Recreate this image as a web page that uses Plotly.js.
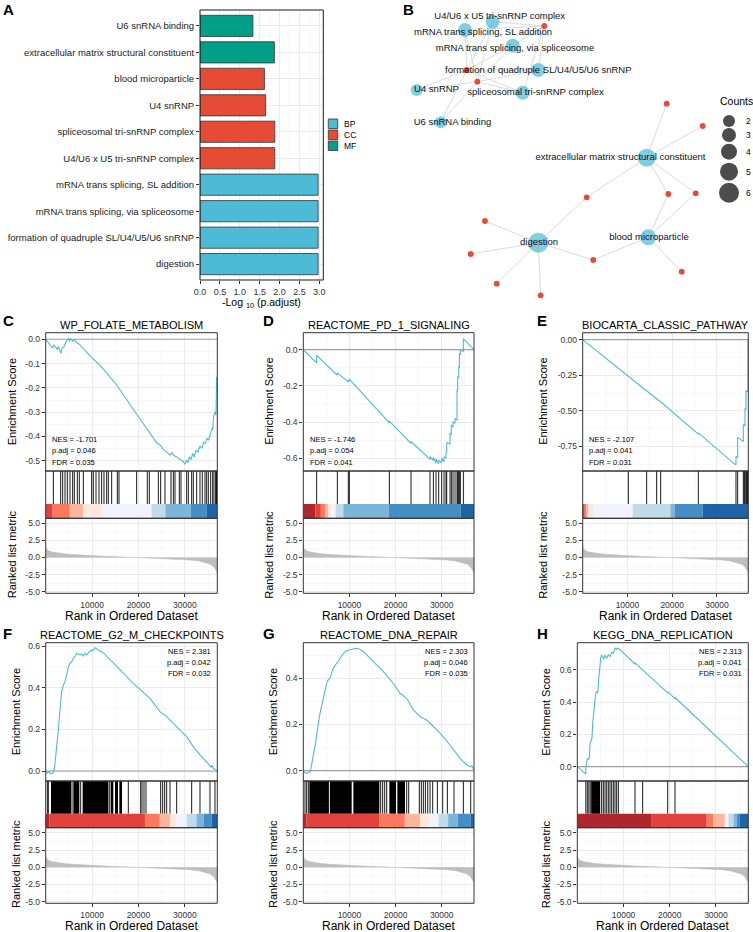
<!DOCTYPE html>
<html>
<head>
<meta charset="utf-8">
<script src="https://cdn.plot.ly/plotly-3.0.1.min.js"></script>
<style>html,body{margin:0;padding:0;background:#fff}#chart{width:753px;height:932px}</style>
</head>
<body>
<div id="chart"></div>
<script>
// ================= DATA =================
// Panel A: GO enrichment (top to bottom)
const goTerms = ['U6 snRNA binding','extracellular matrix structural constituent','blood microparticle','U4 snRNP','spliceosomal tri-snRNP complex','U4/U6 x U5 tri-snRNP complex','mRNA trans splicing, SL addition','mRNA trans splicing, via spliceosome','formation of quadruple SL/U4/U5/U6 snRNP','digestion'];
const goOntology = ['MF','MF','CC','CC','CC','CC','BP','BP','BP','BP'];
const goLogP = [1.33,1.87,1.62,1.65,1.88,1.88,2.97,2.97,2.97,2.97];
const ontologies = ['BP','CC','MF'];
const pAdjTicks = [0,0.5,1,1.5,2,2.5,3];

// Panel B: gene-concept network (layout coordinates as drawn)
const netTerms = ['U4/U6 x U5 tri-snRNP complex','mRNA trans splicing, SL addition','mRNA trans splicing, via spliceosome','formation of quadruple SL/U4/U5/U6 snRNP','spliceosomal tri-snRNP complex','U4 snRNP','U6 snRNA binding','extracellular matrix structural constituent','digestion','blood microparticle'];
const netTermX = [492.7,465,512.7,538.3,522.7,416.7,440.7,646.7,538.3,648.3];
const netTermY = [21.7,30,45.7,70,92.7,90,122.3,157.7,242.7,237.3];
const netTermCount = [3,3,3,3,3,2,2,5,6,4];
const netLabelX = [499.7,483,515,538.3,535.5,436.5,452.5,620.5,539,649];
const netLabelY = [17,33,49,70.3,93,90,122.3,158,243,237.7];
const netGeneX = [544.3,466.7,477.3,666.7,702.7,668.3,695.7,586.7,485,470.7,496.7,540.7,593.3,681.7];
const netGeneY = [26,70,81.7,103.7,126,194,193.3,197.3,221,254,283.7,295.3,260,271.7];
const netEdges = [[0,0],[0,1],[0,2],[1,0],[1,1],[1,2],[2,0],[2,1],[2,2],[3,0],[3,1],[3,2],[4,0],[4,1],[4,2],[5,1],[5,2],[6,1],[6,2],
  [7,3],[7,4],[7,5],[7,6],[7,7],[8,7],[8,8],[8,9],[8,10],[8,11],[8,12],[9,5],[9,6],[9,12],[9,13]];
const countLegend = [2,3,4,5,6];

// GSEA panels
const gseaNames = ['WP_FOLATE_METABOLISM','REACTOME_PD_1_SIGNALING','BIOCARTA_CLASSIC_PATHWAY','REACTOME_G2_M_CHECKPOINTS','REACTOME_DNA_REPAIR','KEGG_DNA_REPLICATION'];
const gseaNES = [-1.701,-1.746,-2.107,2.381,2.303,2.313];
const gseaPadj = [0.046,0.054,0.041,0.042,0.046,0.041];
const gseaFDR = [0.035,0.041,0.031,0.032,0.035,0.031];
const rankedListLength = 37000;
const rankTicks = [10000,20000,30000];

const esRankC = [0,568,1071,1502,1646,2077,2508,2724,3083,3299,3514,3946,4377,4664,4880,5168,5383,5814,6101,7395,8832,9911,11707,15301,18893,22487,23925,24643,25361,26081,26799,27159,27661,28237,28955,29673,30033,30320,30680,30967,31327,31687,32045,32405,32836,33267,33698,34058,34416,34776,35136,35494,35854,35999,36214,36501,36717,36861];
const esScoreC = [0,-0.016,-0.027,-0.037,-0.023,-0.033,-0.041,-0.030,-0.049,-0.058,-0.037,-0.030,-0.011,-0.003,0.003,-0.008,0.003,-0.008,-0.003,-0.023,-0.051,-0.076,-0.106,-0.188,-0.288,-0.387,-0.426,-0.435,-0.453,-0.463,-0.477,-0.467,-0.478,-0.484,-0.495,-0.504,-0.514,-0.497,-0.508,-0.484,-0.495,-0.470,-0.484,-0.456,-0.464,-0.440,-0.449,-0.422,-0.429,-0.407,-0.415,-0.385,-0.367,-0.374,-0.316,-0.298,-0.312,-0.154];
const hitsC = [1650,3227,3658,4161,4664,5239,5814,6173,6820,7251,8114,9911,10270,10845,11491,12067,12569,13145,13503,14223,15444,15803,19612,21912,22343,24283,24787,25721,27015,27517,27877,28811,29171,30393,30751,31471,31829,32549,33267,33770,34345,34705,35063,35567,35998,36285,36645,36800,36900];
const blocksC = [];
const bandEdgesC = [0,1500,5200,8100,12200,22800,25800,31300,34700,37000];
const bandColorC = [9,8,7,6,5,4,3,2,1];
const esTicksC = [0,-0.1,-0.2,-0.3,-0.4,-0.5];
const esTickTextC = ['0.0','-0.1','-0.2','-0.3','-0.4','-0.5'];

const esRankD = [0,2898,2898,7380,7380,9763,9763,9980,9980,18652,18652,23349,23349,27469,27469,28191,28191,28769,28769,29348,29348,29999,29999,30504,30504,30937,30937,31083,31083,31805,31805,32093,32093,32455,32455,32889,32889,33322,33322,33467,33467,33684,33684,33827,33827,34044,34044,34478,34695,34695,37000];
const esScoreD = [0,-0.073,-0.031,-0.141,-0.128,-0.178,-0.168,-0.172,-0.163,-0.404,-0.395,-0.517,-0.507,-0.606,-0.591,-0.613,-0.594,-0.628,-0.604,-0.631,-0.609,-0.624,-0.6,-0.618,-0.591,-0.6,-0.563,-0.567,-0.514,-0.52,-0.462,-0.466,-0.417,-0.426,-0.398,-0.407,-0.38,-0.389,-0.224,-0.226,-0.15,-0.152,-0.095,-0.097,-0.022,-0.024,0.002,-0.007,-0.01,0.061,0];
const hitsD = [2898,7380,9763,9980,18652,23349,27469,28191,28769,29348,29999,30504,30937,31083,31805,32093,32455,32889,33322,33467,33684,33827,34044,34695];
const blocksD = [];
const bandEdgesD = [0,2600,3800,4700,5400,6150,7000,8680,18500,34100,37000];
const bandColorD = [10,9,8,7,6,5,4,3,2,1];
const esTicksD = [0,-0.2,-0.4,-0.6];
const esTickTextD = ['0.0','-0.2','-0.4','-0.6'];

const esRankE = [0,10195,10195,14290,14290,16525,16525,17418,17418,25832,25832,34024,34247,34247,34620,34620,35885,35885,36257,36257,36480,36480,36930,36930];
const esScoreE = [0,-0.262,-0.256,-0.361,-0.359,-0.417,-0.415,-0.438,-0.436,-0.664,-0.655,-0.876,-0.878,-0.822,-0.826,-0.685,-0.717,-0.600,-0.604,-0.484,-0.49,-0.36,-0.365,0];
const hitsE = [10195,14290,16525,17418,25832,34247,34620,35885,36100,36257,36480,36650,36800,36930];
const blocksE = [];
const bandEdgesE = [0,450,750,1270,2550,11170,19600,20550,26800,37000];
const bandColorE = [9,8,7,6,5,4,3,2,1];
const esTicksE = [0,-0.25,-0.5,-0.75];
const esTickTextE = ['0.00','-0.25','-0.50','-0.75'];

const esRankF = [0,352,783,1071,1502,1790,2005,2221,2508,2724,3083,3443,3802,4161,4521,4880,5239,5599,5958,6317,6677,7035,7395,7754,8114,8473,8832,9192,9551,9911,10270,10630,10989,11348,11707,12425,13145,13863,15301,18893,22487,24643,26081,28237,30393,31829,33267,35063,35639,35855,36141,36501,37000];
const esScoreF = [0,-0.011,-0.003,-0.014,-0.011,0,0.037,0.077,0.149,0.197,0.293,0.381,0.413,0.429,0.461,0.501,0.517,0.525,0.541,0.549,0.565,0.562,0.557,0.562,0.552,0.565,0.557,0.568,0.573,0.581,0.578,0.592,0.587,0.581,0.576,0.568,0.552,0.533,0.501,0.421,0.349,0.285,0.261,0.213,0.165,0.117,0.077,0.034,0.018,0.029,0.013,0.008,0];
const hitsF = [352,568,5670,7539,13719,17815,20475,20762,21193,21625,24787,25219,25650,26081,26799,28237,31471,33267,35423,36501];
const blocksF = [[1143,5455],[5958,7251],[7971,13503],[14007,14581],[14941,15588],[15875,16450]];
const bandEdgesF = [0,800,21400,24600,26800,28200,30400,32500,34100,35800,37000];
const bandColorF = [10,9,8,7,6,5,4,3,2,1];
const esTicksF = [0,0.2,0.4,0.6];
const esTickTextF = ['0.0','0.2','0.4','0.6'];

const esRankG = [0,369,730,1091,1453,1669,1814,2175,2537,2898,3259,3621,3982,4343,4705,5066,5427,5789,6150,6511,7234,7957,8679,9402,10125,10847,11570,12293,13015,13738,15183,17351,19519,20965,22410,23855,25301,26746,28191,29637,31805,33973,35419,36141,36503,37000];
const esScoreG = [0,-0.009,-0.012,-0.009,-0.004,0.01,0.032,0.068,0.104,0.162,0.205,0.248,0.284,0.321,0.357,0.378,0.393,0.4,0.422,0.443,0.465,0.487,0.508,0.52,0.523,0.526,0.53,0.526,0.516,0.501,0.472,0.429,0.378,0.335,0.313,0.263,0.234,0.219,0.191,0.162,0.111,0.053,0.025,0.017,0.022,0.003];
const hitsG = [369,730,1091,16773,17207,17641,18074,22410,22844,25155,25589,26022,26456,26963,27469,28047,29058,30215,31226,32672,34695,36286];
const blocksG = [[1308,5550],[5750,10486],[10847,16484],[18652,20097],[20386,22049]];
const bandEdgesG = [0,700,16500,22000,25300,27300,29300,31400,33500,36300,37000];
const bandColorG = [10,9,8,7,6,5,4,3,2,1];
const esTicksG = [0,0.2,0.4];
const esTickTextG = ['0.0','0.2','0.4'];

const esRankH = [0,945,1811,1883,2171,2387,2604,2748,2965,3181,3326,3542,3759,3975,4191,4408,4624,4841,5057,5274,5490,5778,5994,6356,6716,7076,7437,7797,8158,8519,8879,12486,12486,14145,14145,19556,19556,21143,21143,37000];
const esScoreH = [0,-0.021,-0.046,0,0.052,0.046,0.052,0.145,0.166,0.176,0.269,0.331,0.393,0.455,0.466,0.455,0.538,0.621,0.672,0.693,0.679,0.667,0.693,0.672,0.693,0.683,0.708,0.704,0.735,0.728,0.735,0.637,0.644,0.599,0.605,0.458,0.465,0.422,0.429,0];
const hitsH = [1850,2171,2500,2800,5274,5634,5994,6356,6715,7076,7437,7797,8158,8519,8879,12486,14145,19556,21143];
const blocksH = [[3000,4950]];
const bandEdgesH = [0,16100,28000,29400,31900,32300,32700,33800,34500,35100,37000];
const bandColorH = [10,9,8,7,6,5,4,3,2,1];
const esTicksH = [0,0.2,0.4,0.6];
const esTickTextH = ['0.0','0.2','0.4','0.6'];

// Ranked list metric (shared)
const metricRank = [0,150,400,800,1500,2500,4000,6000,9000,13000,17000,21000,25000,28000,31000,33000,34500,35500,36200,36600,36900,37000];
const metricValue = [1.9,1.35,1.12,0.95,0.8,0.66,0.54,0.43,0.3,0.17,0.07,-0.03,-0.13,-0.22,-0.36,-0.52,-0.75,-1.0,-1.35,-1.7,-2.1,-2.3];
const metricTicks = [5,2.5,0,-2.5,-5];
const metricTickText = ['5.0','2.5','0.0','-2.5','-5.0'];

// ================= STYLE =================
const FONT = 'Liberation Sans, Arial, Helvetica, sans-serif';
const W = 753, H = 932;
const fx = v => v / W;
const fy = v => 1 - v / H;
const ontologyColors = ['#4DBBD5','#E64B35','#00A087'];
const bandPalette = ['#08519C','#3182BD','#6BAED6','#BDD7E7','#EFF3FF','#FEE5D9','#FCAE91','#FB6A4A','#DE2D26','#A50F15'];
const esColor = '#4DBBD5';
const gridMajor = '#EBEBEB', gridMinor = '#F4F4F4';
const tickFont = {family: FONT, size: 8.5, color: '#333'};

const traces = [];
const layout = {
  width: W, height: H, autosize: false,
  margin: {l: 0, r: 0, t: 0, b: 0},
  paper_bgcolor: '#fff', plot_bgcolor: '#fff',
  showlegend: false, barmode: 'overlay',
  font: {family: FONT, size: 9, color: '#000'},
  shapes: [], annotations: []
};
function ann(text, x, y, opts) {
  layout.annotations.push(Object.assign({
    text: text, x: fx(x), y: fy(y), xref: 'paper', yref: 'paper', showarrow: false,
    xanchor: 'center', yanchor: 'middle', font: {family: FONT, size: 11, color: '#000'}
  }, opts || {}));
}
function border(xref, yref, color) {
  layout.shapes.push({type: 'rect', xref: xref, yref: yref, x0: 0, x1: 1, y0: 0, y1: 1,
    line: {color: color || '#333', width: 1}, fillcolor: 'rgba(0,0,0,0)', layer: 'above'});
}

// ================= PANEL A =================
layout.xaxis = {
  domain: [fx(200), fx(323.3)], range: [0, 3.1], anchor: 'y',
  tickvals: pAdjTicks, ticktext: pAdjTicks.map(v => v.toFixed(1)),
  ticks: 'outside', ticklen: 3, tickcolor: '#333', tickwidth: 1, tickfont: {family: FONT, size: 9, color: '#333'},
  showgrid: true, gridcolor: gridMajor, gridwidth: 1,
  minor: {tick0: 0, dtick: 0.25, showgrid: true, gridcolor: gridMinor, gridwidth: 0.6},
  zeroline: false, showline: false, fixedrange: true
};
layout.yaxis = {
  domain: [fy(280), fy(10)], type: 'category', categoryorder: 'array', categoryarray: goTerms,
  range: [goTerms.length - 0.4, -0.6], anchor: 'x',
  ticks: 'outside', ticklen: 3, tickcolor: '#333', tickwidth: 1,
  tickfont: {family: FONT, size: 9.5, color: '#222'},
  showgrid: true, gridcolor: gridMajor, gridwidth: 1, zeroline: false, showline: false, fixedrange: true
};
ontologies.forEach((ont, k) => {
  const idx = goOntology.map((o, i) => o === ont ? i : -1).filter(i => i >= 0);
  traces.push({
    type: 'bar', orientation: 'h', xaxis: 'x', yaxis: 'y',
    x: idx.map(i => goLogP[i]), y: idx.map(i => goTerms[i]), width: 0.8,
    marker: {color: ontologyColors[k], line: {color: '#333', width: 0.8}}, hoverinfo: 'skip'
  });
});
border('x domain', 'y domain', '#1a1a1a');
ann('-Log <sub>10</sub> (p.adjust)', 261.7, 303, {font: {family: FONT, size: 10.5, color: '#000'}});
// legend (manual)
const legTop = [119, 130, 141];
ontologies.forEach((ont, k) => {
  layout.shapes.push({type: 'rect', xref: 'paper', yref: 'paper', x0: fx(328.3), x1: fx(337.7),
    y0: fy(legTop[k] + 9.5), y1: fy(legTop[k]), fillcolor: ontologyColors[k], line: {color: '#333', width: 0.8}});
  ann(ont, 341.5, legTop[k] + 4.8, {xanchor: 'left', font: {family: FONT, size: 8.5, color: '#000'}});
});

// ================= PANEL B =================
layout.xaxis2 = {domain: [fx(380), 1], range: [380, 753], visible: false, fixedrange: true, anchor: 'y2'};
layout.yaxis2 = {domain: [fy(310), 1], range: [310, 0], visible: false, fixedrange: true, anchor: 'x2'};
const nodeSize = c => 8 + 2 * c;
const ex = [], ey = [];
netEdges.forEach(([t, g]) => { ex.push(netTermX[t], netGeneX[g], null); ey.push(netTermY[t], netGeneY[g], null); });
traces.push({type: 'scatter', mode: 'lines', x: ex, y: ey, xaxis: 'x2', yaxis: 'y2',
  line: {color: '#D6D6D6', width: 0.9}, hoverinfo: 'skip'});
traces.push({type: 'scatter', mode: 'markers', x: netGeneX, y: netGeneY, xaxis: 'x2', yaxis: 'y2',
  marker: {color: '#E64B35', size: 5.8, line: {width: 0}}, hoverinfo: 'skip'});
traces.push({type: 'scatter', mode: 'markers', x: netTermX, y: netTermY, xaxis: 'x2', yaxis: 'y2',
  marker: {color: '#4DBBD5', size: netTermCount.map(nodeSize), line: {width: 0}}, hoverinfo: 'skip'});
traces.push({type: 'scatter', mode: 'text', x: netLabelX, y: netLabelY, text: netTerms, xaxis: 'x2', yaxis: 'y2',
  textposition: 'middle center', textfont: {family: FONT, size: 9.5, color: '#111'}, hoverinfo: 'skip', cliponaxis: false});
// size legend
const legY = [121, 135, 151.7, 171.7, 192.7];
traces.push({type: 'scatter', mode: 'markers', x: countLegend.map(() => 729), y: legY, xaxis: 'x2', yaxis: 'y2',
  marker: {color: '#000', size: countLegend.map(nodeSize), line: {width: 0}}, hoverinfo: 'skip', cliponaxis: false});
ann('Counts', 717.5, 101, {xanchor: 'left', font: {family: FONT, size: 10.5, color: '#000'}});
countLegend.forEach((c, i) => ann(String(c), 744, legY[i], {xanchor: 'left', font: {family: FONT, size: 8.5, color: '#000'}}));

// ================= GSEA PANELS =================
const panelLetters = ['C','D','E','F','G','H'];
const panelLeft = [45.7, 303.3, 582.7, 45.7, 303.3, 577.3];
const panelRight = [217.3, 474, 748.3, 217.3, 474, 748.3];
const panelRow = [0, 0, 0, 1, 1, 1];
const yTitleX = [11.5, 269, 543, 15.5, 272.5, 545.8];
const letterX = [1, 261, 535, 1, 261, 535];
const rowGeom = [
  {top: 332.7, esBot: 471, midBot: 518.3, bot: 593.3, title: 325, xTitle: 615.5, letter: 320.5, nes: [439.3, 450.8, 462.3]},
  {top: 642.7, esBot: 781, midBot: 827.7, bot: 903.3, title: 634.5, xTitle: 926, letter: 633, nes: [651.7, 662.5, 673.3]}
];
const esRanges = [[-0.542, 0.027], [-0.67, 0.094], [-0.923, 0.049], [-0.048, 0.616], [-0.045, 0.554], [-0.089, 0.769]];
const esMinor = [0.05, 0.1, 0.125, 0.1, 0.1, 0.1];

const panels = [
  {esR: esRankC, esS: esScoreC, hits: hitsC, blocks: blocksC, be: bandEdgesC, bc: bandColorC, tv: esTicksC, tt: esTickTextC},
  {esR: esRankD, esS: esScoreD, hits: hitsD, blocks: blocksD, be: bandEdgesD, bc: bandColorD, tv: esTicksD, tt: esTickTextD},
  {esR: esRankE, esS: esScoreE, hits: hitsE, blocks: blocksE, be: bandEdgesE, bc: bandColorE, tv: esTicksE, tt: esTickTextE},
  {esR: esRankF, esS: esScoreF, hits: hitsF, blocks: blocksF, be: bandEdgesF, bc: bandColorF, tv: esTicksF, tt: esTickTextF},
  {esR: esRankG, esS: esScoreG, hits: hitsG, blocks: blocksG, be: bandEdgesG, bc: bandColorG, tv: esTicksG, tt: esTickTextG},
  {esR: esRankH, esS: esScoreH, hits: hitsH, blocks: blocksH, be: bandEdgesH, bc: bandColorH, tv: esTicksH, tt: esTickTextH}
];

panels.forEach((P, p) => {
  const R = rowGeom[panelRow[p]];
  const xi = 3 + p, yT = 3 + 3 * p, yM = yT + 1, yB = yT + 2;
  const xa = 'x' + xi, yta = 'y' + yT, yma = 'y' + yM, yba = 'y' + yB;
  const L = panelLeft[p], Rt = panelRight[p];

  layout['xaxis' + xi] = {
    domain: [fx(L), fx(Rt)], range: [0, rankedListLength], anchor: yba,
    tickvals: rankTicks, ticktext: rankTicks.map(String),
    ticks: 'outside', ticklen: 3, tickcolor: '#333', tickwidth: 1, tickfont: tickFont,
    showgrid: true, gridcolor: gridMajor, gridwidth: 1,
    minor: {tick0: 0, dtick: 5000, showgrid: true, gridcolor: gridMinor, gridwidth: 0.6},
    zeroline: false, showline: false, fixedrange: true
  };
  layout['yaxis' + yT] = {
    domain: [fy(R.esBot), fy(R.top)], range: esRanges[p], anchor: xa,
    tickvals: P.tv, ticktext: P.tt,
    ticks: 'outside', ticklen: 3, tickcolor: '#333', tickwidth: 1, tickfont: tickFont,
    showgrid: true, gridcolor: gridMajor, gridwidth: 1,
    minor: {tick0: 0, dtick: esMinor[p], showgrid: true, gridcolor: gridMinor, gridwidth: 0.6},
    zeroline: false, showline: false, fixedrange: true
  };
  layout['yaxis' + yM] = {
    domain: [fy(R.midBot), fy(R.esBot)], range: [0, 1], anchor: xa,
    showticklabels: false, ticks: '', showgrid: false, zeroline: false, showline: false, fixedrange: true
  };
  layout['yaxis' + yB] = {
    domain: [fy(R.bot), fy(R.midBot)], range: [-5.25, 5.75], anchor: xa,
    tickvals: metricTicks, ticktext: metricTickText,
    ticks: 'outside', ticklen: 3, tickcolor: '#333', tickwidth: 1, tickfont: tickFont,
    showgrid: true, gridcolor: gridMajor, gridwidth: 1,
    minor: {tick0: 0, dtick: 1.25, showgrid: true, gridcolor: gridMinor, gridwidth: 0.6},
    zeroline: false, showline: false, fixedrange: true
  };

  // zero reference line
  traces.push({type: 'scatter', mode: 'lines', x: [0, rankedListLength], y: [0, 0], xaxis: xa, yaxis: yta,
    line: {color: '#9E9E9E', width: 1.2}, hoverinfo: 'skip'});
  // running ES
  traces.push({type: 'scatter', mode: 'lines', x: P.esR, y: P.esS, xaxis: xa, yaxis: yta,
    line: {color: esColor, width: 1.1}, hoverinfo: 'skip'});
  // hits
  const hx = [], hy = [];
  P.hits.forEach(h => { hx.push(h, h, null); hy.push(0.3, 1, null); });
  traces.push({type: 'scatter', mode: 'lines', x: hx, y: hy, xaxis: xa, yaxis: yma,
    line: {color: '#000', width: 0.9}, hoverinfo: 'skip'});
  P.blocks.forEach(b => layout.shapes.push({type: 'rect', xref: xa, yref: yma, x0: b[0], x1: b[1], y0: 0.3, y1: 1,
    fillcolor: '#000', line: {width: 0}, layer: 'above'}));
  // colour bar
  P.bc.forEach((ci, i) => layout.shapes.push({type: 'rect', xref: xa, yref: yma, x0: P.be[i], x1: P.be[i + 1], y0: 0, y1: 0.3,
    fillcolor: bandPalette[ci - 1], opacity: 0.9, line: {width: 0}, layer: 'above'}));
  // ranked list metric
  traces.push({type: 'scatter', mode: 'lines', x: metricRank, y: metricValue, xaxis: xa, yaxis: yba,
    fill: 'tozeroy', fillcolor: '#BEBEBE', line: {color: '#BEBEBE', width: 0.5}, hoverinfo: 'skip'});

  border(xa + ' domain', yta + ' domain');
  border(xa + ' domain', yma + ' domain');
  border(xa + ' domain', yba + ' domain');

  // texts
  ann(gseaNames[p], (L + Rt) / 2, R.title, {font: {family: FONT, size: 11, color: '#000'}});
  ann('Enrichment Score', yTitleX[p], (R.top + R.esBot) / 2, {textangle: -90, font: {family: FONT, size: 11, color: '#000'}});
  ann('Ranked list metric', yTitleX[p], (R.midBot + R.bot) / 2 - 1, {textangle: -90, font: {family: FONT, size: 11, color: '#000'}});
  ann('Rank in Ordered Dataset', (L + Rt) / 2, R.xTitle, {font: {family: FONT, size: 12, color: '#000'}});
  const nesLines = ['NES = ' + gseaNES[p].toFixed(3), 'p.adj = ' + gseaPadj[p].toFixed(3), 'FDR = ' + gseaFDR[p].toFixed(3)];
  nesLines.forEach((t, i) => {
    if (gseaNES[p] < 0) ann(t, L + 4.3, R.nes[i], {xanchor: 'left', font: {family: FONT, size: 7.5, color: '#000'}});
    else ann(t, Rt - 4, R.nes[i], {xanchor: 'right', font: {family: FONT, size: 7.5, color: '#000'}});
  });
  ann('<b>' + panelLetters[p] + '</b>', letterX[p], R.letter, {xanchor: 'left', font: {family: FONT, size: 15, color: '#000'}});
});

// panel letters A, B
ann('<b>A</b>', 1, 9, {xanchor: 'left', font: {family: FONT, size: 15, color: '#000'}});
ann('<b>B</b>', 401, 9, {xanchor: 'left', font: {family: FONT, size: 15, color: '#000'}});

Plotly.newPlot('chart', traces, layout, {staticPlot: true, displayModeBar: false});
</script>
</body>
</html>
